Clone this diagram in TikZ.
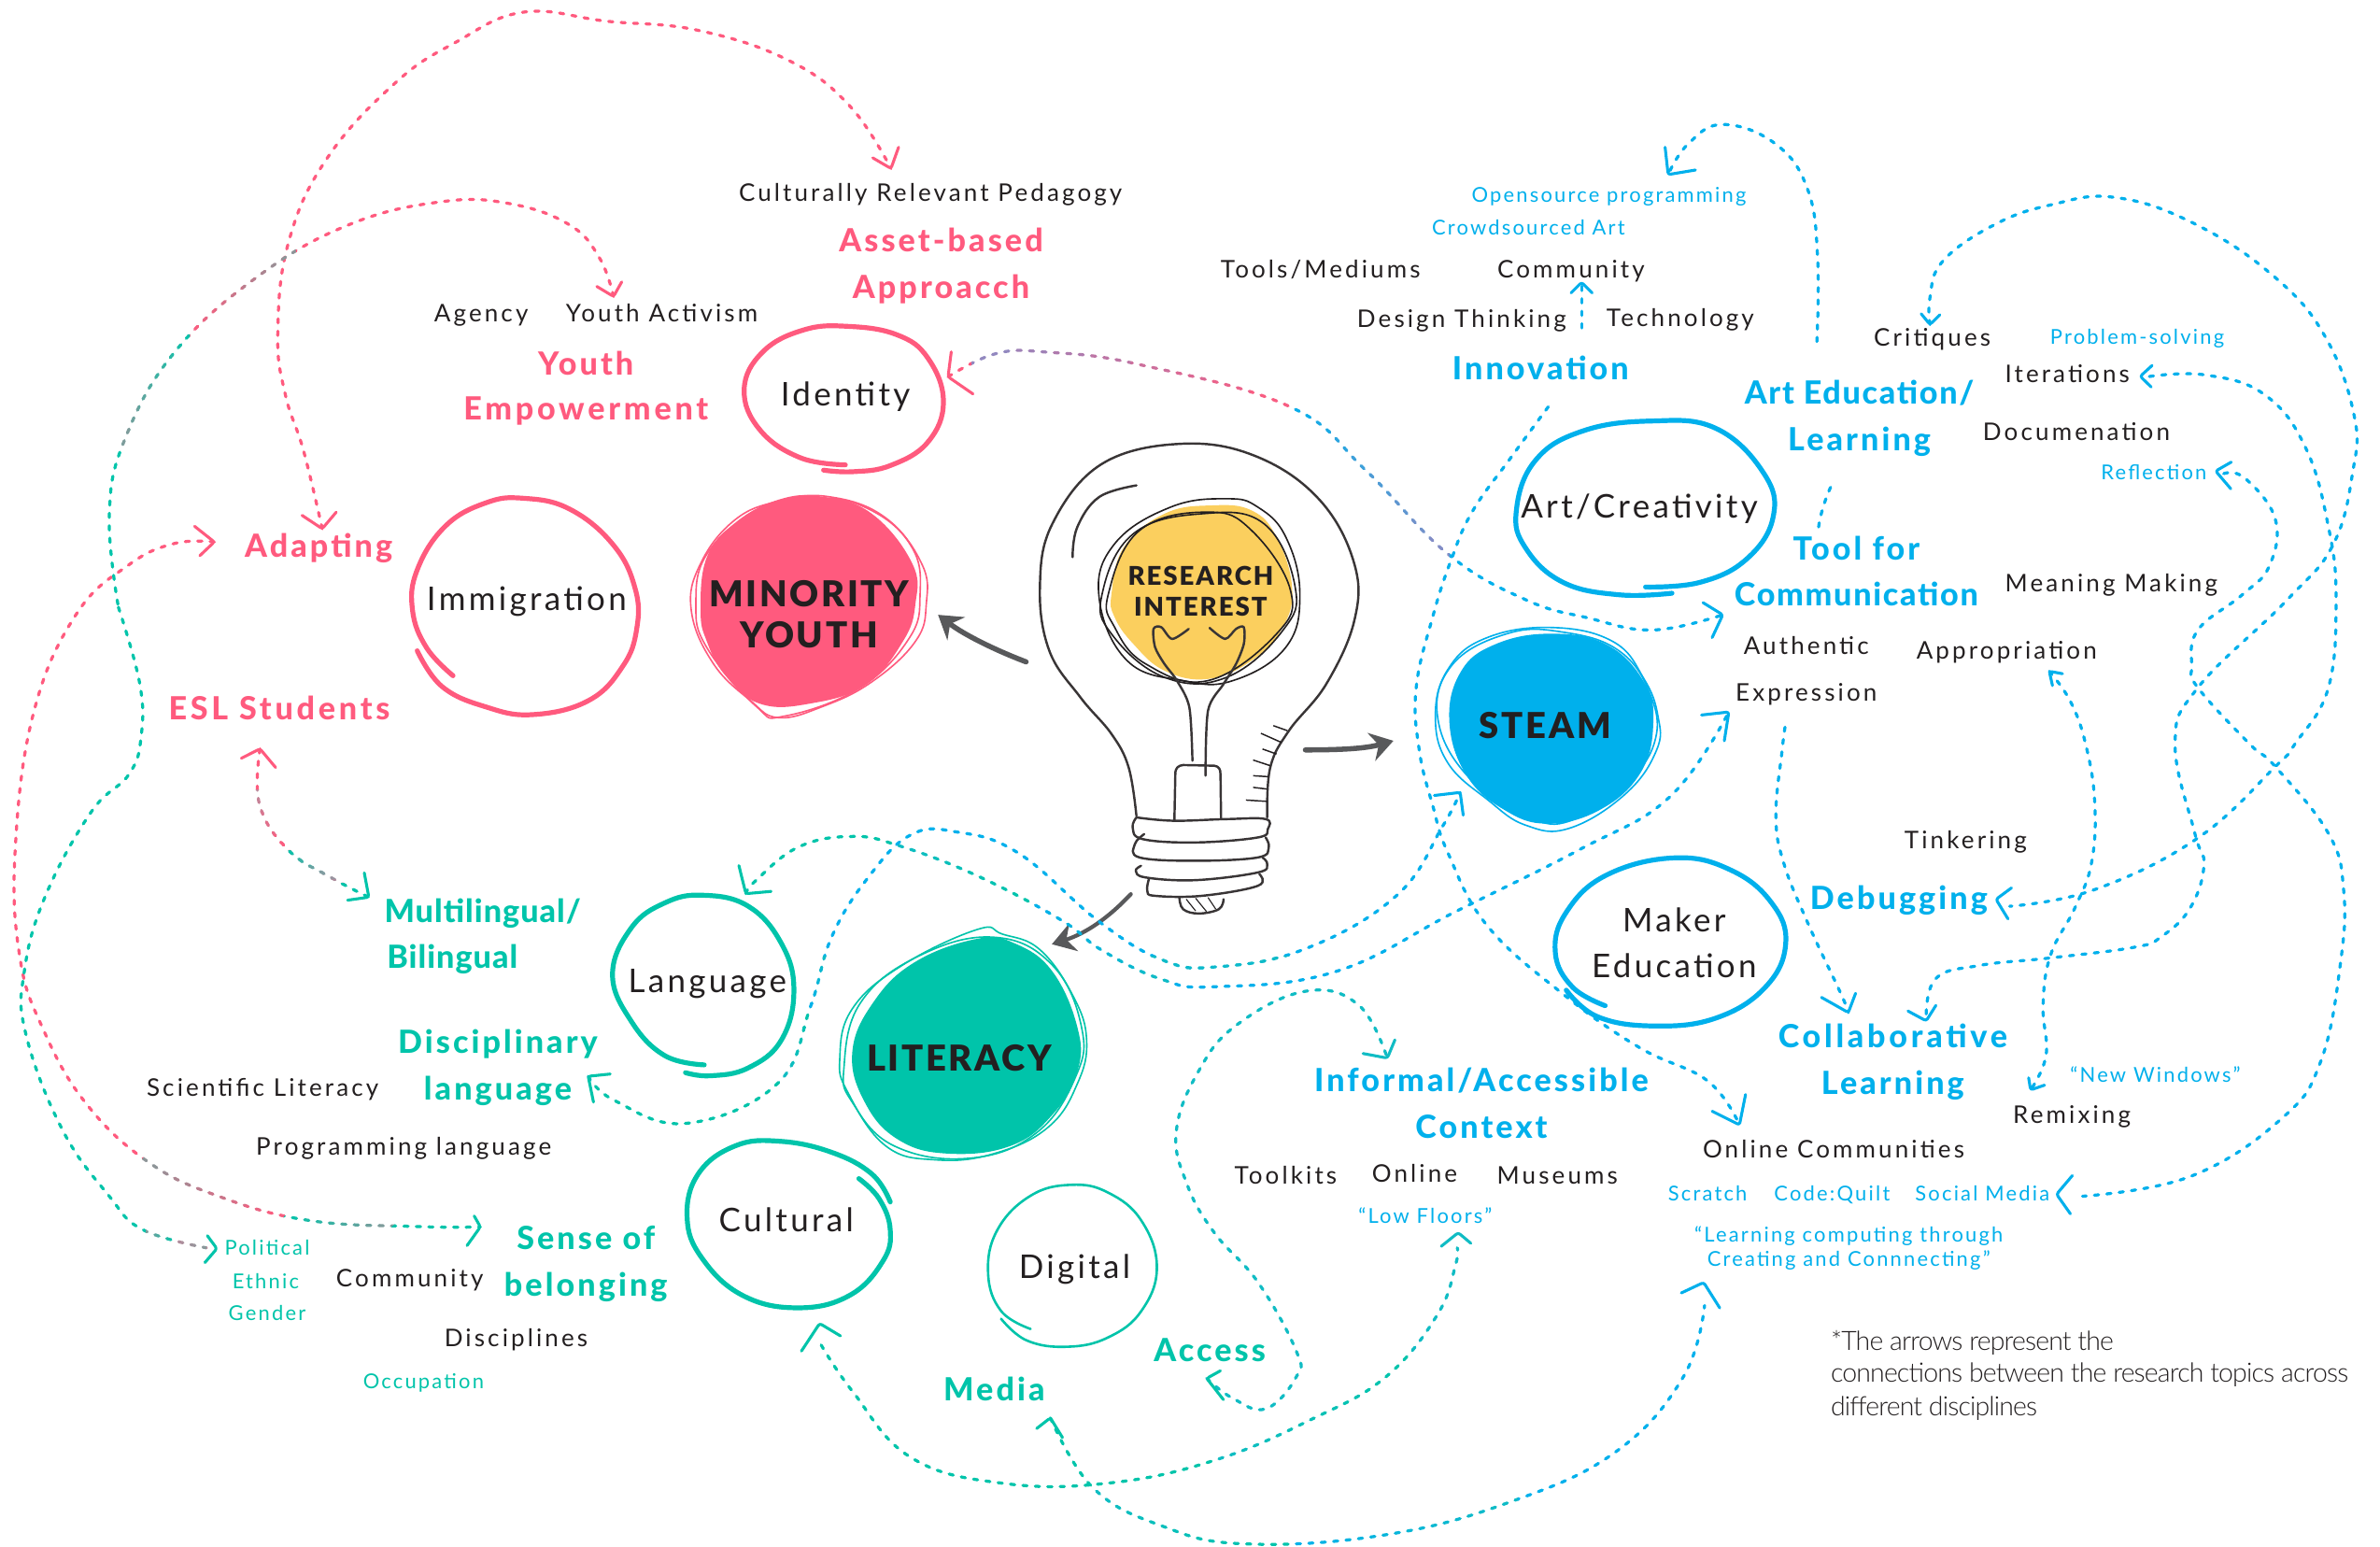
\documentclass[tikz,border=0pt]{standalone}
\usepackage{fontspec}
\usetikzlibrary{arrows.meta}
\setmainfont{Lato}[LetterSpace=12]
\newfontfamily\labf{Lato}[LetterSpace=9.5]
\newfontfamily\smf{Lato}[LetterSpace=10]
\newfontfamily\hdf{Lato Heavy}[LetterSpace=9]
\newfontfamily\hdn{Lato Heavy}[LetterSpace=3]
\newfontfamily\hdm{Lato Heavy}[LetterSpace=5]
\newfontfamily\hdw{Lato Heavy}[LetterSpace=11]
\newfontfamily\bigf{Lato Black}[LetterSpace=7]
\newfontfamily\lgt{Lato Light}[LetterSpace=-3]
\definecolor{pinkc}{HTML}{FF5A7E}
\definecolor{greenc}{HTML}{00C4AA}
\definecolor{bluec}{HTML}{00B0EC}
\definecolor{yellowc}{HTML}{FBCF5E}
\definecolor{inkc}{HTML}{231F20}
\definecolor{greyc}{HTML}{58595B}
\definecolor{purplec}{HTML}{8A8BC4}
\definecolor{mauvec}{HTML}{B98A9C}
\definecolor{slatec}{HTML}{86999A}
\definecolor{tealc}{HTML}{10BCC4}
% gradient dashed connector: angle, s1, s2, s3, c1, c2, c3, options, path
\newcommand{\gradline}[9]{%
  \begin{scope}\clip[rotate=#1] (-4000,-4000) rectangle (#2+.3,4000);\draw[#8,draw=#5] #9;\end{scope}
  \foreach \i in {1,...,8}{%
    \pgfmathsetmacro\sa{#2+(#3-#2)*(\i-1)/8}\pgfmathsetmacro\sb{#2+(#3-#2)*\i/8+.3}\pgfmathtruncatemacro\pc{100-(\i-.5)*100/8}%
    \begin{scope}\clip[rotate=#1] (\sa,-4000) rectangle (\sb,4000);\draw[#8,draw={#6!\pc!#5}] #9;\end{scope}}
  \foreach \i in {1,...,8}{%
    \pgfmathsetmacro\sa{#3+(#4-#3)*(\i-1)/8}\pgfmathsetmacro\sb{#3+(#4-#3)*\i/8+.3}\pgfmathtruncatemacro\pc{100-(\i-.5)*100/8}%
    \begin{scope}\clip[rotate=#1] (\sa,-4000) rectangle (\sb,4000);\draw[#8,draw={#7!\pc!#6}] #9;\end{scope}}
  \begin{scope}\clip[rotate=#1] (#4,-4000) rectangle (4000,4000);\draw[#8,draw=#7] #9;\end{scope}%
}
% open chevron arrowhead: colour, apex name, leg end 1, leg end 2
\newcommand{\chev}[6]{\draw[chevs,#1] (#3,#4) -- (#2) -- (#5,#6);}
\tikzset{
  dsh/.style={line width=2pt,line cap=round,dash pattern=on 2.8pt off 5.4pt,tension=.7},
  chevs/.style={line width=1.9pt,line cap=round,line join=round,rounded corners=1.6pt},
  ring/.style={line width=1pt,line join=round,tension=.7},
  blob/.style={tension=.7},
  hand/.style={line width=3.2pt,line cap=round,tension=.7},
  bulbl/.style={line width=1.5pt,draw=inkc!90,line cap=round,line join=round,tension=.65},
  gar/.style={line width=3.4pt,draw=greyc,line cap=round,-{Stealth[length=15pt,width=19pt,inset=5pt,fill=greyc]}},
  txt/.style={inner sep=0pt,text height=1.18em,text depth=0pt,font=\fontsize{16}{18}\selectfont,text=inkc},
  lab/.style={txt,text height=1.42em,font=\fontsize{21.5}{24}\selectfont\labf},
  sm/.style={txt,text height=1em,font=\fontsize{13.5}{15}\selectfont\smf},
  hd/.style={txt,text height=1.38em,font=\fontsize{21}{24}\selectfont\hdf},
  big/.style={txt,text height=1.55em,font=\fontsize{23.5}{26}\selectfont\bigf},
  bulbt/.style={txt,text height=1.34em,font=\fontsize{17}{18}\selectfont\bigf},
  note/.style={inner sep=0pt,text height=.9em,text depth=0pt,font=\fontsize{17.5}{18}\selectfont\lgt,text=inkc,anchor=west},
}
\begin{document}
\begin{tikzpicture}[x=1pt,y=-1pt]
\useasboundingbox (0,0) rectangle (1568,1019);
\fill[white] (0,0) rectangle (1568,1019);

% ---------- coloured blobs
\begin{scope}[shift={(430.8,196.9)},x=.2051pt,y=-.2051pt]
  \fill[pinkc,blob] plot[smooth cycle] coordinates {(150,1000)(170,830)(260,720)(400,645)(540,635)(700,690)(830,850)(840,980)(800,1100)(680,1240)(500,1300)(340,1300)(230,1210)(170,1100)};
  \draw[ring,pinkc] plot[smooth cycle] coordinates {(120,1000)(150,850)(260,710)(400,650)(560,635)(740,700)(860,850)(875,980)(840,1100)(700,1230)(540,1310)(400,1345)(310,1290)(190,1170)};
  \draw[ring,pinkc] plot[smooth cycle] coordinates {(135,980)(170,820)(320,690)(520,640)(700,680)(830,800)(855,950)(820,1090)(660,1250)(420,1340)(330,1310)(170,1120)};
\end{scope}
\begin{scope}[shift={(923.1,258.5)},x=.2051pt,y=-.2051pt]
  \fill[bluec,blob] plot[smooth cycle] coordinates {(155,1060)(190,900)(300,810)(480,775)(660,810)(780,930)(810,1060)(770,1220)(640,1340)(470,1385)(330,1340)(210,1230)};
  \draw[ring,bluec] plot[smooth cycle] coordinates {(110,1040)(150,890)(270,790)(480,755)(680,800)(780,920)(825,1040)(820,1150)(720,1290)(540,1400)(400,1390)(280,1310)(150,1190)};
  \draw[ring,bluec] plot[smooth cycle] coordinates {(120,1060)(160,880)(340,775)(520,770)(700,830)(800,970)(815,1120)(720,1260)(560,1370)(420,1370)(230,1250)};
\end{scope}
\begin{scope}[shift={(369.2,529.2)},x=.2747pt,y=-.2051pt]
  \fill[greenc,blob] plot[smooth cycle] coordinates {(700,800)(750,640)(850,510)(1000,435)(1090,450)(1180,540)(1240,720)(1240,860)(1180,1000)(1080,1100)(930,1125)(810,1080)(730,960)};
  \draw[ring,greenc] plot[smooth cycle] coordinates {(670,820)(700,660)(820,520)(1000,405)(1060,420)(1150,470)(1230,620)(1262,760)(1240,900)(1170,1040)(1040,1125)(900,1145)(780,1100)(690,930)};
  \draw[ring,greenc] plot[smooth cycle] coordinates {(680,850)(720,640)(860,490)(1040,430)(1180,520)(1250,720)(1235,880)(1140,1060)(980,1140)(800,1100)(700,960)};
\end{scope}

% ---------- hand-drawn circles
\begin{scope}[shift={(430.8,196.9)},x=.2051pt,y=-.2051pt]
  \draw[hand,pinkc] plot[smooth] coordinates {(615,533)(470,510)(340,420)(290,290)(350,170)(480,100)(620,88)(780,115)(880,190)(930,330)(880,460)(760,535)(640,555)(545,550)};
\end{scope}
\begin{scope}[shift={(123.1,295.4)},x=.2051pt,y=-.2051pt]
  \draw[hand,pinkc] plot[smooth] coordinates {(855,730)(770,640)(725,520)(740,390)(830,250)(960,175)(1080,160)(1230,195)(1370,310)(1440,450)(1445,580)(1400,700)(1290,810)(1110,855)(960,830)(820,765)(740,650)};
\end{scope}
\begin{scope}[shift={(923.1,258.5)},x=.2051pt,y=-.2051pt]
  \draw[hand,bluec] plot[smooth] coordinates {(870,645)(700,650)(520,610)(400,500)(370,380)(430,220)(580,125)(800,92)(1010,115)(1165,260)(1195,400)(1110,535)(960,610)(785,625)};
\end{scope}
\begin{scope}[shift={(997,541.5)},x=.2051pt,y=-.2051pt]
  \draw[hand,bluec] plot[smooth] coordinates {(295,590)(190,530)(135,420)(170,290)(300,170)(520,115)(700,155)(830,260)(875,390)(810,530)(650,630)(450,655)(270,625)(170,540)};
\end{scope}
\begin{scope}[shift={(369.2,529.2)},x=.2747pt,y=-.2051pt]
  \draw[hand,greenc] plot[smooth] coordinates {(345,840)(250,810)(170,700)(125,550)(170,400)(250,320)(340,295)(450,330)(530,450)(560,600)(530,760)(450,850)(360,875)(300,865)};
\end{scope}
\begin{scope}[shift={(430.8,732.3)},x=.2433pt,y=-.2051pt]
  \draw[hand,greenc] plot[smooth] coordinates {(640,290)(590,200)(480,130)(340,95)(220,110)(120,200)(90,340)(130,470)(240,590)(390,630)(530,590)(620,480)(640,380)(610,280)(555,215)};
  \draw[line width=1.6pt,line cap=round,greenc,tension=.7] plot[smooth] coordinates {(1020,698)(940,640)(905,520)(930,380)(1020,270)(1130,235)(1230,260)(1320,350)(1362,500)(1320,640)(1230,725)(1120,755)(1010,735)(940,665)};
\end{scope}

% ---------- light bulb
\begin{scope}[shift={(664.6,276.9)},x=.2051pt,y=-.2198pt]
  \fill[yellowc,blob] plot[smooth cycle] coordinates {(330,520)(370,380)(500,280)(650,255)(780,270)(860,350)(910,500)(880,620)(780,720)(640,775)(500,750)(400,670)(340,590)};
  \draw[bulbl] plot[smooth] coordinates {(410,1185)(385,1040)(330,940)(230,830)(130,690)(100,500)(140,310)(300,130)(560,70)(800,110)(1000,240)(1110,430)(1110,600)(1020,790)(900,930)(840,1040)(830,1190)};
  \draw[bulbl] plot[smooth] coordinates {(205,410)(220,320)(290,230)(410,195)};
  \draw[ring,draw=inkc] plot[smooth cycle] coordinates {(290,530)(340,370)(520,260)(700,235)(800,260)(890,350)(935,520)(890,680)(720,780)(560,780)(380,720)};
  \draw[ring,draw=inkc] plot[smooth cycle] coordinates {(300,520)(400,340)(620,280)(820,310)(920,500)(880,630)(700,770)(500,770)(330,640)};
  \draw[ring,draw=inkc] plot[smooth cycle] coordinates {(320,520)(420,330)(640,275)(780,330)(905,510)(860,640)(640,780)(440,730)(340,620)};
  \draw[bulbl,tension=.5] plot[smooth] coordinates {(578,625)(525,655)(490,620)(465,625)(470,680)(500,730)(540,780)(580,860)(590,1020)};
  \draw[bulbl,tension=.5] plot[smooth] coordinates {(645,622)(695,655)(730,625)(755,620)(755,670)(730,730)(690,790)(640,870)(632,1065)};
  \draw[bulbl] (532,1200) -- (535,1060) .. controls (535,1040) and (545,1035) .. (560,1033) -- (660,1035) .. controls (675,1037) and (680,1045) .. (680,1060) -- (682,1195);
  \draw[bulbl] plot[smooth] coordinates {(410,1190)(398,1220)(430,1255)(600,1265)(800,1250)(832,1225)(825,1195)(700,1195)(530,1200)(410,1190)};
  \draw[bulbl] plot[smooth] coordinates {(435,1240)(405,1270)(420,1310)(600,1320)(800,1310)(835,1280)(825,1250)};
  \draw[bulbl] plot[smooth] coordinates {(425,1335)(408,1350)(440,1370)(600,1378)(800,1355)(830,1330)(815,1310)};
  \draw[bulbl] plot[smooth] coordinates {(450,1375)(445,1410)(470,1425)(620,1425)(800,1395)(805,1360)};
  \draw[bulbl] plot[smooth] coordinates {(548,1430)(560,1465)(610,1478)(675,1465)(690,1435)};
  \draw[line width=.7pt,draw=inkc] (570,1435)--(600,1470) (600,1432)--(635,1472) (640,1430)--(665,1465);
  \draw[line width=.9pt,draw=inkc] (850,915)--(895,930) (810,938)--(875,965) (815,985)--(860,1000) (785,1018)--(840,1035) (785,1065)--(835,1068) (785,1100)--(830,1105) (762,1138)--(830,1142);
\end{scope}

% ---------- text nodes
\node[bulbt] (res) at (791,379) {RESEARCH};
\node[bulbt] (int) at (791,399) {INTEREST};
\node[big] (min) at (533,392) {MINORITY};
\node[big] (you) at (533,419) {YOUTH};
\node[big] (steam) at (1018,479) {STEAM};
\node[big] (lit) at (632,698) {LITERACY};
\node[lab] (ident) at (557,260) {Identity};
\node[lab] (immig) at (347,395) {Immigration};
\node[lab] (art) at (1080,334) {Art/Creativity};
\node[lab] (mak) at (1103,607) {Maker};
\node[lab] (edu) at (1103,637) {Education};
\node[lab] (lang) at (466,647) {Language};
\node[lab] (cult) at (518,804) {Cultural};
\node[lab] (digi) at (708,835) {Digital};

\node[txt] (crp) at (613,127) {Culturally Relevant Pedagogy};
\node[hd,text=pinkc] (ass) at (620,159) {Asset-based};
\node[hd,text=pinkc] (app) at (620,190) {Approacch};
\node[txt] (agy) at (317,206) {Agency};
\node[txt] (yac) at (436,206) {Youth Activism};
\node[hd,text=pinkc] (yth) at (386,240) {Youth};
\node[hd,text=pinkc,font=\fontsize{21}{24}\selectfont\hdw] (emp) at (386,270) {Empowerment};
\node[hd,text=pinkc] (ada) at (210,360) {Adapting};
\node[hd,text=pinkc,font=\fontsize{21}{24}\selectfont\hdw] (esl) at (184,467) {ESL Students};

\node[sm,text=bluec] (ope) at (1060,128) {Opensource programming};
\node[sm,text=bluec] (cro) at (1007,150) {Crowdsourced Art};
\node[txt] (too) at (870,177) {Tools/Mediums};
\node[txt] (com) at (1035,177) {Community};
\node[txt] (des) at (963,210) {Design Thinking};
\node[txt] (tec) at (1107,209) {Technology};
\node[hd,text=bluec] (inn) at (1015,243) {Innovation};
\node[hd,text=bluec,font=\fontsize{21}{24}\selectfont\hdm] (aed) at (1225,259) {Art Education/};
\node[hd,text=bluec] (lea) at (1225,290) {Learning};
\node[txt] (cri) at (1273,222) {Critiques};
\node[sm,text=bluec] (pro) at (1408,222) {Problem-solving};
\node[txt] (ite) at (1362,246) {Iterations};
\node[txt] (doc) at (1368,284) {Documenation};
\node[sm,text=bluec] (ref) at (1419,311) {Reflection};
\node[hd,text=bluec] (tfr) at (1223,362) {Tool for};
\node[hd,text=bluec,font=\fontsize{21}{24}\selectfont\hdm] (cmm) at (1223,392) {Communication};
\node[txt] (mea) at (1391,384) {Meaning Making};
\node[txt] (aut) at (1190,425) {Authentic};
\node[txt] (exp) at (1190,456) {Expression};
\node[txt] (apr) at (1322,428) {Appropriation};
\node[txt] (tin) at (1295,553) {Tinkering};
\node[hd,text=bluec] (deb) at (1251,592) {Debugging};
\node[hd,text=bluec,font=\fontsize{21}{24}\selectfont\hdw] (col) at (1247,683) {Collaborative};
\node[hd,text=bluec] (lrn) at (1247,714) {Learning};
\node[sm,text=bluec] (new) at (1420,708) {“New Windows”};
\node[txt] (rem) at (1365,734) {Remixing};
\node[txt] (onl) at (1208,757) {Online Communities};
\node[sm,text=bluec] (scr) at (1125,786) {Scratch};
\node[sm,text=bluec] (cod) at (1207,786) {Code:Quilt};
\node[sm,text=bluec] (soc) at (1306,786) {Social Media};
\node[sm,text=bluec] (lcp) at (1218,813) {“Learning computing through};
\node[sm,text=bluec] (cre) at (1218,829) {Creating and Connnecting”};
\node[note] (n1) at (1206,885) {*The arrows represent the};
\node[note] (n2) at (1206,906) {connections between the research topics across};
\node[note] (n3) at (1206,928) {different disciplines};

\node[hd,text=bluec] (inf) at (976,712) {Informal/Accessible};
\node[hd,text=bluec] (ctx) at (976,743) {Context};
\node[txt] (tlk) at (847,774) {Toolkits};
\node[txt] (oln) at (932,773) {Online};
\node[txt] (mus) at (1026,774) {Museums};
\node[sm,text=bluec] (low) at (939,801) {“Low Floors”};
\node[hd,text=greenc] (acc) at (797,890) {Access};
\node[hd,text=greenc] (med) at (655,916) {Media};
\node[hd,text=greenc,font=\fontsize{21}{24}\selectfont\hdn] (mul) at (318,601) {Multilingual/};
\node[hd,text=greenc,font=\fontsize{21}{24}\selectfont\hdn] (bil) at (298,631) {Bilingual};
\node[hd,text=greenc] (dis) at (328,687) {Disciplinary};
\node[hd,text=greenc] (lan) at (328,718) {language};
\node[txt] (sci) at (173,716) {Scientific Literacy};
\node[txt] (prg) at (266,755) {Programming language};
\node[hd,text=greenc] (sen) at (386,816) {Sense of};
\node[hd,text=greenc] (bel) at (386,847) {belonging};
\node[txt] (cmy) at (270,842) {Community};
\node[txt] (dsc) at (340,881) {Disciplines};
\node[sm,text=greenc] (occ) at (279,910) {Occupation};
\node[sm,text=greenc] (pol) at (176,822) {Political};
\node[sm,text=greenc] (eth) at (175,844) {Ethnic};
\node[sm,text=greenc] (gen) at (176,865) {Gender};

% ---------- connector end points (chevron apexes)
\coordinate (bulbR) at (860,494);
\coordinate (toSteam) at (918,488);
\coordinate (bulbL) at (676,436);
\coordinate (toMin) at (618,405);
\coordinate (bulbB) at (745,589);
\coordinate (toLit) at (693,622);

\coordinate (crpIn) at (587,111);
\coordinate (adaTop) at (212.3,348.3);
\coordinate (adaL) at (141.2,357);
\coordinate (senR) at (316.5,808.2);
\coordinate (yacIn) at (404.2,195.3);
\coordinate (polIn) at (142.9,822.5);
\coordinate (eslB) at (171.3,493.3);
\coordinate (mulL) at (243,591);
\coordinate (idR) at (624.6,248.2);
\coordinate (cmmIn) at (1135,405);
\coordinate (lanR) at (387.5,709);
\coordinate (steamIn) at (962,522);
\coordinate (langT) at (491.4,588.7);
\coordinate (expIn) at (1139,469);
\coordinate (cultB) at (540,871.8);
\coordinate (lowB) at (960.7,812);
\coordinate (medT) at (692,934);
\coordinate (lcpB) at (1122.4,844.8);
\coordinate (accB) at (795,908);
\coordinate (infB) at (914,697);
\coordinate (innB) at (1020,268);
\coordinate (onlIn) at (1146,741);
\coordinate (aedT) at (1197,225);
\coordinate (opeIn) at (1099,115);
\coordinate (comB) at (1042,216);
\coordinate (comT) at (1042,186);
\coordinate (aedB) at (1206,321);
\coordinate (tfrT) at (1198,348);
\coordinate (expB) at (1176,479);
\coordinate (colT1) at (1217.7,667);
\coordinate (criB) at (1271.5,213.8);
\coordinate (colT2) at (1269,672.5);
\coordinate (iteR) at (1410,247.9);
\coordinate (debR) at (1315,592.4);
\coordinate (refR) at (1459.7,310.3);
\coordinate (socR) at (1354.9,786.7);
\coordinate (aprB) at (1350.1,442.2);
\coordinate (remT) at (1337.8,718);
\coordinate (iteEnd) at (1416,248);
\coordinate (debEnd) at (1324,597);
\coordinate (refEnd) at (1465,312);
\coordinate (socEnd) at (1372,788);
\coordinate (polEnd) at (136,822);
\coordinate (cultEnd) at (541,886);
\coordinate (lcpEnd) at (1123,860);
\coordinate (lowEnd) at (960,822);

% ---------- grey arrows from the bulb
\draw[gar] (bulbR) .. controls (885,494) and (900,493) .. (toSteam);
\draw[gar] (bulbL) .. controls (655,428) and (635,418) .. (toMin);
\draw[gar,line width=2.6pt] (bulbB) .. controls (730,605) and (715,615) .. (toLit);

% ---------- pink connector
\draw[dsh,pinkc] plot[smooth] coordinates {(adaTop)(200,297)(188,260)(183,220)(190,160)(215,105)(260,55)(300,28)(345,8)(400,14)(460,20)(520,40)(560,70)(crpIn)};

% ---------- gradient connectors
\gradline{-45}{606}{699}{754}{pinkc}{slatec}{greenc}{dsh}{plot[smooth] coordinates {(adaL)(115,358)(85,372)(50,405)(22,470)(10,560)(13,630)(28,677)(56,726)(97,765)(144,788)(204,804)(276,808)(senR)}}
\gradline{0}{80}{125}{195}{greenc}{slatec}{pinkc}{dsh}{plot[smooth] coordinates {(yacIn)(395,170)(375,148)(335,134)(290,133)(230,148)(170,182)(115,232)(82,290)(72,340)(78,400)}}
\gradline{0}{96}{115}{136}{greenc}{slatec}{mauvec}{dsh}{plot[smooth] coordinates {(78,400)(92,450)(93,485)(85,510)(60,535)(30,590)(16,640)(17,681)(41,744)(72,788)(94,810)(polEnd)}}
\gradline{-90}{520}{560}{582}{pinkc}{mauvec}{greenc}{dsh}{plot[smooth] coordinates {(eslB)(171,530)(190,560)(218,578)(mulL)}}
\gradline{0}{640}{850}{955}{pinkc}{purplec}{bluec}{dsh}{plot[smooth] coordinates {(idR)(656,233)(690,232)(750,240)(850,268)(900,310)(954,365)(1005,395)(1046,407)(1089,415)(cmmIn)}}
\gradline{-90}{630}{665}{712}{bluec}{tealc}{greenc}{dsh}{plot[smooth] coordinates {(lanR)(405,725)(452,740)(512,714)(534,663)(548,617)(572,578)(600,550)(630,548)(671,562)(724,607)(765,632)(800,637)(860,625)(920,590)(950,545)(steamIn)}}
\gradline{0}{590}{680}{770}{greenc}{tealc}{bluec}{dsh}{plot[smooth] coordinates {(langT)(498,580)(526,558)(561,551)(592,557)(644,577)(699,606)(726,626)(765,645)(800,650)(880,640)(960,600)(1040,560)(1100,525)(expIn)}}
\gradline{0}{720}{800}{930}{greenc}{greenc}{tealc}{dsh}{plot[smooth] coordinates {(cultEnd)(562,917)(600,960)(660,977)(730,977)(800,962)(864,935)(913,907)(947,866)(959,833)(lowEnd)}}
\gradline{0}{720}{850}{1000}{greenc}{tealc}{bluec}{dsh}{plot[smooth] coordinates {(medT)(720,980)(765,1005)(820,1017)(913,1011)(996,989)(1065,956)(1109,907)(lcpEnd)}}
\draw[dsh,tealc] plot[smooth] coordinates {(accB)(812,921)(834,928)(854,907)(854,890)(829,845)(800,812)(782,780)(775,745)(790,705)(815,675)(860,653)(895,662)(infB)};

% ---------- blue connectors
\draw[dsh,bluec] plot[smooth] coordinates {(innB)(995,302)(970,337)(956,369)(944,406)(933,453)(935,494)(944,531)(954,562)(980,610)(1030,655)(1080,690)(1125,712)(onlIn)};
\draw[dsh,bluec] plot[smooth] coordinates {(aedT)(1197.5,170)(1191,125)(1170,95)(1135,82)(1112,95)(opeIn)};
\draw[dsh,bluec] (comB) -- (comT);
\draw[dsh,bluec] (aedB) .. controls (1202,330) and (1199,340) .. (tfrT);
\draw[dsh,bluec] plot[smooth] coordinates {(expB)(1174,495)(1170,537)(1175,568)(1191,608)(1213,655)(colT1)};
\draw[dsh,bluec] plot[smooth] coordinates {(criB)(1271.5,196)(1280,172)(1314,148)(1351,135)(1393,130)(1445,147)(1498,182)(1532,222)(1551,274)(1550,311)(1537,359)(1506,396)(1448,453)(1433,490)(1446,549)(1452,570)(1443,598)(1424,617)(1406,624)(1351,631)(1304,636)(1275,645)(colT2)};
\draw[dsh,bluec] plot[smooth] coordinates {(iteEnd)(1453,247)(1492,260)(1519,295)(1534,347)(1539,394)(1534,453)(1512,490)(1499,505)(1448,552)(1380,586)(debEnd)};
\draw[dsh,bluec] plot[smooth] coordinates {(refEnd)(1479,315)(1499,342)(1495,373)(1477,392)(1448,415)(1444,439)(1448,453)(1482,490)(1499,505)(1534,549)(1544,586)(1542,634)(1529,699)(1503,737)(1443,775)(socEnd)};
\draw[dsh,bluec] plot[smooth] coordinates {(aprB)(1364,462)(1374,490)(1380,528)(1378,568)(1367,598)(1351,629)(1346,662)(1348,695)(remT)};

% ---------- chevron arrowheads
\chev{pinkc}{crpIn}{575}{104}{592}{97}
\chev{pinkc}{adaTop}{199}{339.5}{221.5}{337.4}
\chev{pinkc}{adaL}{128.2}{346.7}{131.7}{366}
\chev{greenc}{senR}{312.4}{801}{307.7}{820.5}
\chev{greenc}{polIn}{136.6}{814}{135}{831.7}
\chev{pinkc}{yacIn}{393.2}{188.7}{409.6}{185.7}
\chev{pinkc}{idR}{626.7}{231.8}{641}{259.5}
\chev{bluec}{cmmIn}{1122}{397}{1128}{420}
\chev{pinkc}{eslB}{159}{499.5}{181.6}{505.6}
\chev{greenc}{mulL}{229}{593}{240}{575}
\chev{greenc}{lanR}{402}{707.5}{391}{726}
\chev{bluec}{steamIn}{945}{524}{964}{537}
\chev{greenc}{langT}{486.8}{570.2}{508}{587.2}
\chev{bluec}{expIn}{1121}{471}{1136}{488}
\chev{greenc}{cultB}{528}{890}{553.7}{880}
\chev{tealc}{lowB}{949.5}{821}{969}{819}
\chev{greenc}{medT}{683}{941}{700}{947}
\chev{bluec}{lcpB}{1107.7}{851.7}{1133}{861.6}
\chev{greenc}{accB}{804}{903}{806}{922}
\chev{tealc}{infB}{898}{694}{919}{685}
\chev{bluec}{onlIn}{1128}{732}{1150}{721}
\chev{bluec}{opeIn}{1097}{97}{1117}{112}
\chev{bluec}{comT}{1035}{193}{1049}{193}
\chev{bluec}{colT1}{1200}{657}{1222.5}{654.3}
\chev{bluec}{criB}{1265.7}{206.7}{1278}{207.4}
\chev{bluec}{colT2}{1257}{666}{1275.4}{662.3}
\chev{bluec}{iteR}{1417.8}{240.8}{1417.3}{255}
\chev{bluec}{debR}{1325.2}{584.9}{1322.9}{605.3}
\chev{bluec}{refR}{1470}{304.4}{1469.7}{322}
\chev{bluec}{socR}{1365.3}{774.4}{1364}{799.6}
\chev{bluec}{aprB}{1358.8}{443.8}{1352.2}{451.6}
\chev{bluec}{remT}{1336.5}{710}{1347}{714.8}
\end{tikzpicture}
\end{document}
